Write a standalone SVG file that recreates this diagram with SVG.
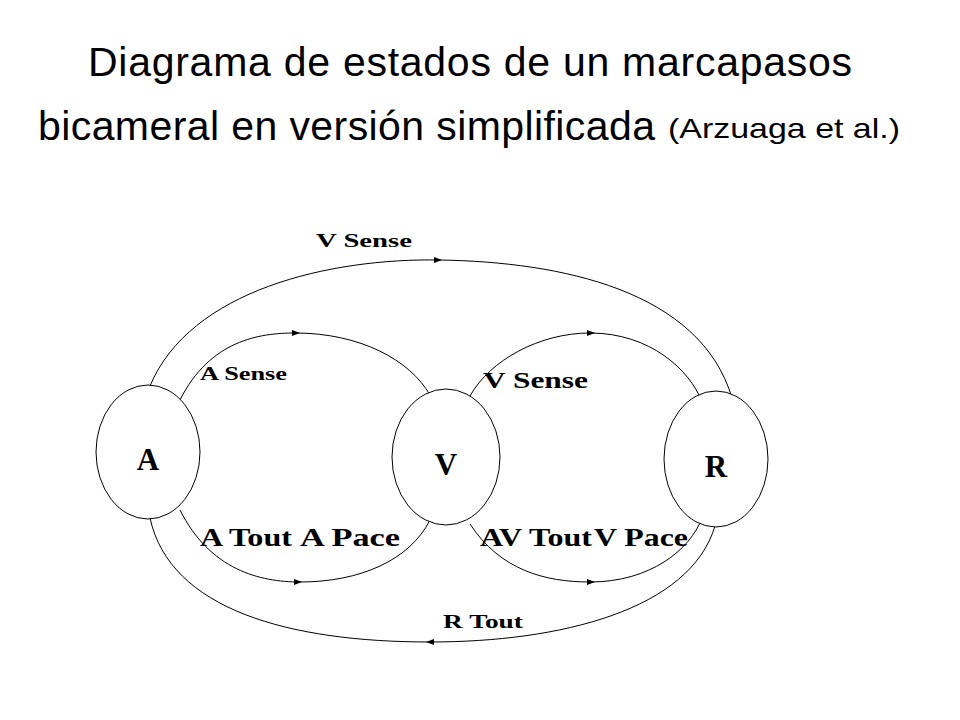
<svg xmlns="http://www.w3.org/2000/svg" width="960" height="720" viewBox="0 0 960 720">
<style>
.t{font-family:"Liberation Sans",Arial,sans-serif;fill:#000}
.l{font-family:"Liberation Serif","Times New Roman",serif;font-weight:bold;fill:#000}
.e{fill:#fff;stroke:#000;stroke-width:1}
.c{fill:none;stroke:#000;stroke-width:1}
</style>
<defs><polygon id="ar" points="0,0 -8,-3 -8,3" fill="#000"/></defs>
<rect width="960" height="720" fill="#fff"/>
<text class="t" x="88" y="76" font-size="41" textLength="764">Diagrama de estados de un marcapasos</text>
<text class="t" x="38" y="140" font-size="41" textLength="617">bicameral en versión simplificada</text>
<text class="t" x="668" y="138" font-size="28" textLength="232" lengthAdjust="spacingAndGlyphs">(Arzuaga et al.)</text>
<g id="connectors">
<path class="c" d="M150,386 C190,290 330,258 440,260 C560,262 700,290 732,398"/>
<path class="c" d="M180,400 C210,340 260,333 295,333 C360,333 410,360 430,395"/>
<path class="c" d="M180,510 C210,570 260,582 300,582 C360,582 410,560 430,520"/>
<path class="c" d="M470,396 C490,360 540,333 590,333 C650,333 690,370 702,402"/>
<path class="c" d="M470,524 C500,570 545,582 590,582 C650,582 690,550 702,518"/>
<path class="c" d="M715,526 C690,610 560,642 430,642 C290,642 170,610 150,518"/>
<use href="#ar" x="442" y="260"/>
<use href="#ar" x="300" y="333"/>
<use href="#ar" x="302" y="582"/>
<use href="#ar" x="595" y="333"/>
<use href="#ar" x="595" y="582"/>
<use href="#ar" transform="translate(426,642) rotate(180)"/>
</g>
<g id="A"><ellipse class="e" cx="148" cy="452" rx="52" ry="67"/><text class="l" x="148" y="470" font-size="31" text-anchor="middle">A</text></g>
<g id="V"><ellipse class="e" cx="446" cy="457" rx="54" ry="68"/><text class="l" x="446" y="475" font-size="31" text-anchor="middle">V</text></g>
<g id="R"><ellipse class="e" cx="716" cy="459" rx="52" ry="68"/><text class="l" x="716" y="477" font-size="31" text-anchor="middle">R</text></g>
<g id="labels">
<text class="l" x="316" y="247" font-size="19" textLength="96" lengthAdjust="spacingAndGlyphs">V Sense</text>
<text class="l" x="200" y="380" font-size="18" textLength="87" lengthAdjust="spacingAndGlyphs">A Sense</text>
<text class="l" x="483" y="388" font-size="24" textLength="105" lengthAdjust="spacingAndGlyphs">V Sense</text>
<text class="l" x="200" y="546" font-size="25" textLength="92" lengthAdjust="spacingAndGlyphs">A Tout</text>
<text class="l" x="300" y="546" font-size="25" textLength="100" lengthAdjust="spacingAndGlyphs">A Pace</text>
<text class="l" x="480" y="546" font-size="25" textLength="112" lengthAdjust="spacingAndGlyphs">AV Tout</text>
<text class="l" x="594" y="546" font-size="25" textLength="94" lengthAdjust="spacingAndGlyphs">V Pace</text>
<text class="l" x="443" y="628" font-size="19" textLength="80" lengthAdjust="spacingAndGlyphs">R Tout</text>
</g>
</svg>
